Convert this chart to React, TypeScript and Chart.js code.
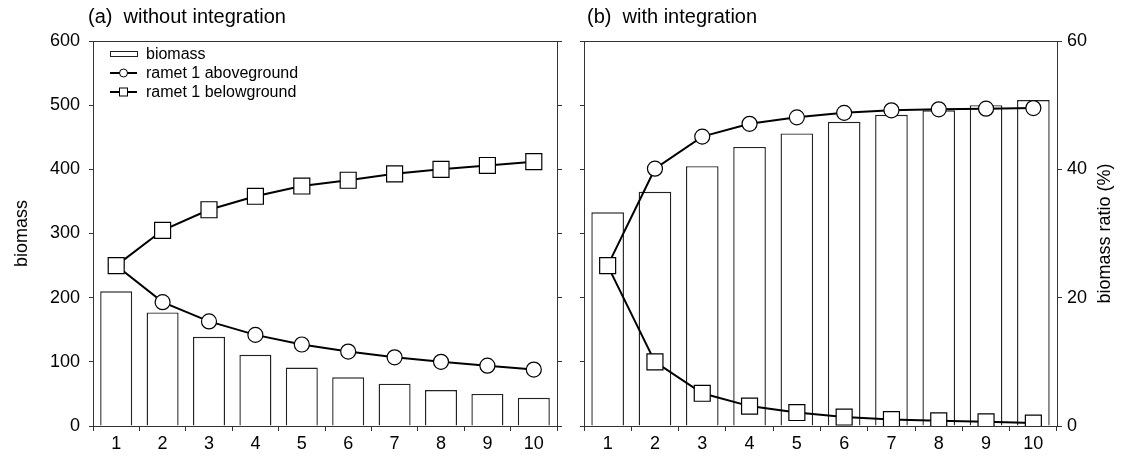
import React, { useEffect, useRef } from "react";
import { Chart, registerables } from "chart.js";

Chart.register(...registerables);

// ---------- data ----------
const categories = ["1", "2", "3", "4", "5", "6", "7", "8", "9", "10"];

// panel (a) without integration
const biomassA = [210, 177, 139, 111, 91, 76, 66, 56, 50, 44];
const aboveA = [25, 19.3, 16.3, 14.2, 12.7, 11.6, 10.7, 10.0, 9.4, 8.8];
const belowA = [25, 30.5, 33.7, 35.8, 37.4, 38.3, 39.3, 40.0, 40.6, 41.2];

// panel (b) with integration
const biomassB = [333, 365, 405, 435, 456, 474, 485, 492, 500, 508];
const aboveB = [25, 40.1, 45.1, 47.1, 48.1, 48.8, 49.2, 49.35, 49.45, 49.55];
const belowB = [25, 10.0, 5.1, 3.1, 2.1, 1.4, 1.0, 0.8, 0.65, 0.45];

// axes
const biomassRange = [0, 600];
const biomassStep = 100;
const ratioRange = [0, 60];
const ratioStep = 20;

const panelTitles = ["(a)  without integration", "(b)  with integration"];
const legendLabels = ["biomass", "ramet 1 aboveground", "ramet 1 belowground"];
const yTitleLeft = "biomass";
const yTitleRight = "biomass ratio (%)";

const FONT = "'Liberation Sans', Arial, Helvetica, sans-serif";
const AXIS = "#333";

type Panel = "a" | "b";

function decorPlugin(panel: Panel) {
  return {
    id: "decor_" + panel,
    afterDraw(chart: any) {
      const ctx: CanvasRenderingContext2D = chart.ctx;
      const { left, top, right } = chart.chartArea;
      ctx.save();
      // top border
      ctx.strokeStyle = AXIS;
      ctx.lineWidth = 1;
      ctx.beginPath();
      const ty = Math.round(top) + 0.5;
      ctx.moveTo(Math.round(left), ty);
      ctx.lineTo(Math.round(right) + 1, ty);
      ctx.stroke();

      // panel title
      ctx.fillStyle = "#000";
      ctx.font = `20px ${FONT}`;
      ctx.textBaseline = "middle";
      ctx.textAlign = "left";
      ctx.fillText(panel === "a" ? panelTitles[0] : panelTitles[1], panel === "a" ? 88 : 17, 17);

      // axis titles
      ctx.font = `18px ${FONT}`;
      ctx.textAlign = "center";
      ctx.textBaseline = "middle";
      const midY = (chart.chartArea.top + chart.chartArea.bottom) / 2;
      if (panel === "a") {
        ctx.save();
        ctx.translate(22, midY);
        ctx.rotate(-Math.PI / 2);
        ctx.fillText(yTitleLeft, 0, 0);
        ctx.restore();

        // legend
        const ix0 = 110;
        const ix1 = 137;
        const rows = [54, 73, 92];
        ctx.font = `16px ${FONT}`;
        ctx.textAlign = "left";
        // bar icon
        ctx.fillStyle = "#fff";
        ctx.strokeStyle = "#222";
        ctx.lineWidth = 1;
        ctx.fillRect(ix0, rows[0] - 2.5, ix1 - ix0, 5);
        ctx.strokeRect(ix0 + 0.5, rows[0] - 2.5, ix1 - ix0, 5);
        // line icons
        for (let i = 1; i < 3; i++) {
          const y = rows[i];
          ctx.strokeStyle = "#000";
          ctx.lineWidth = 2;
          ctx.beginPath();
          ctx.moveTo(ix0, y);
          ctx.lineTo(ix1, y);
          ctx.stroke();
          ctx.fillStyle = "#fff";
          ctx.lineWidth = 1;
          const cx = (ix0 + ix1) / 2;
          if (i === 1) {
            ctx.beginPath();
            ctx.arc(cx, y, 4, 0, Math.PI * 2);
            ctx.fill();
            ctx.stroke();
          } else {
            ctx.fillRect(cx - 4, y - 4, 8, 8);
            ctx.strokeRect(cx - 4, y - 4, 8, 8);
          }
        }
        ctx.fillStyle = "#000";
        for (let i = 0; i < 3; i++) {
          ctx.fillText(legendLabels[i], 146, rows[i] + 1);
        }
      } else {
        ctx.save();
        ctx.translate(535, midY);
        ctx.rotate(-Math.PI / 2);
        ctx.fillText(yTitleRight, 0, 0);
        ctx.restore();
      }
      ctx.restore();
    },
  };
}

function makeConfig(panel: Panel): any {
  const isA = panel === "a";
  const biomass = isA ? biomassA : biomassB;
  const above = isA ? aboveA : aboveB;
  const below = isA ? belowA : belowB;
  const tickFont = { family: FONT, size: 18 };
  return {
    type: "bar",
    data: {
      labels: categories,
      datasets: [
        {
          type: "bar",
          label: legendLabels[0],
          data: biomass,
          yAxisID: "y",
          backgroundColor: "#fff",
          borderColor: "#222",
          borderWidth: 1.4,
          barPercentage: 0.69,
          categoryPercentage: 1.0,
          order: 3,
        },
        {
          type: "line",
          label: legendLabels[1],
          data: above,
          yAxisID: "yR",
          borderColor: "#000",
          borderWidth: 2,
          tension: 0,
          pointStyle: "circle",
          pointRadius: 7.5,
          pointBackgroundColor: "#fff",
          pointBorderColor: "#000",
          pointBorderWidth: 1.2,
          order: 2,
        },
        {
          type: "line",
          label: legendLabels[2],
          data: below,
          yAxisID: "yR",
          borderColor: "#000",
          borderWidth: 2,
          tension: 0,
          pointStyle: "rect",
          pointRadius: 11.3,
          pointBackgroundColor: "#fff",
          pointBorderColor: "#000",
          pointBorderWidth: 1.2,
          order: 1,
        },
      ],
    },
    options: {
      animation: false,
      responsive: false,
      maintainAspectRatio: false,
      devicePixelRatio: 1,
      layout: { padding: { top: 41, left: 0, right: 0, bottom: 0 } },
      plugins: {
        legend: { display: false },
        title: { display: false },
        tooltip: { enabled: false },
      },
      scales: {
        x: {
          type: "category",
          offset: true,
          grid: {
            offset: true,
            drawOnChartArea: false,
            drawTicks: true,
            tickLength: 5,
            color: AXIS,
          },
          border: { display: true, color: AXIS },
          ticks: { font: tickFont, color: "#000", padding: 2, maxRotation: 0, autoSkip: false },
          afterFit: (s: any) => {
            s.height = 31;
          },
        },
        y: {
          type: "linear",
          position: "left",
          min: biomassRange[0],
          max: biomassRange[1],
          grid: { drawOnChartArea: false, drawTicks: true, tickLength: 4, color: AXIS },
          border: { display: true, color: AXIS },
          ticks: {
            stepSize: biomassStep,
            display: isA,
            font: tickFont,
            color: "#000",
            padding: 9,
          },
          afterFit: (s: any) => {
            s.width = isA ? 93 : 14;
          },
        },
        yR: {
          type: "linear",
          position: "right",
          min: ratioRange[0],
          max: ratioRange[1],
          grid: { drawOnChartArea: false, drawTicks: true, tickLength: 5, color: AXIS },
          border: { display: true, color: AXIS },
          ticks: {
            stepSize: isA ? ratioStep / 2 : ratioStep,
            display: !isA,
            font: tickFont,
            color: "#000",
            padding: 5,
          },
          afterFit: (s: any) => {
            s.width = isA ? 13 : 68;
          },
        },
      },
    },
    plugins: [decorPlugin(panel)],
  };
}

function PanelChart({ panel, left, width }: { panel: Panel; left: number; width: number }) {
  const ref = useRef<HTMLCanvasElement | null>(null);
  useEffect(() => {
    if (!ref.current) return;
    const chart = new Chart(ref.current, makeConfig(panel));
    return () => chart.destroy();
  }, [panel]);
  return (
    <canvas
      ref={ref}
      width={width}
      height={457}
      style={{ position: "absolute", left, top: 0, width, height: 457, display: "block" }}
    />
  );
}

export default function App() {
  return (
    <div
      style={{
        position: "fixed",
        left: 0,
        top: 0,
        width: 1125,
        height: 457,
        background: "#fff",
        overflow: "hidden",
      }}
    >
      <PanelChart panel="a" left={0} width={570} />
      <PanelChart panel="b" left={570} width={555} />
    </div>
  );
}
